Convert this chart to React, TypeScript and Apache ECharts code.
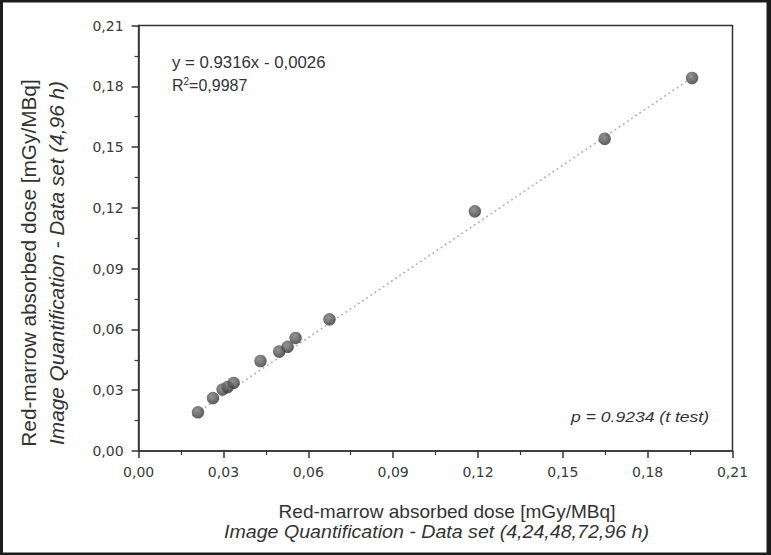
import React, { useEffect, useRef } from "react";
import * as echarts from "echarts";

// Data
const xValues = [0.0210, 0.0263, 0.0297, 0.0315, 0.0336, 0.0431, 0.0497, 0.0527, 0.0555, 0.0675, 0.1189, 0.1648, 0.1957];
const yValues = [0.0191, 0.0261, 0.0304, 0.0316, 0.0336, 0.0444, 0.0491, 0.0514, 0.0558, 0.0650, 0.1183, 0.1541, 0.1841];
const fitLineX = [0.0190, 0.1970];
const fitLineY = [0.0172, 0.1855];
const axisMin = 0;
const axisMax = 0.21;
const axisInterval = 0.03;

const equationText = "y = 0.9316x - 0,0026";
const r2Value = "=0,9987";
const pText = "p = 0.9234 (t test)";
const yTitle1 = "Red-marrow absorbed dose [mGy/MBq]";
const yTitle2 = "Image Quantification - Data set (4,96 h)";
const xTitle1 = "Red-marrow absorbed dose [mGy/MBq]";
const xTitle2 = "Image Quantification - Data set (4,24,48,72,96 h)";

const FONT = "'Liberation Sans', Arial, Helvetica, sans-serif";
const TEXT_COLOR = "#333333";

export default function App() {
  const ref = useRef<HTMLDivElement>(null);

  useEffect(() => {
    if (!ref.current) return;
    const chart = echarts.init(ref.current, undefined, { renderer: "svg" });
    const fmt = (v: number) => v.toFixed(2).replace(".", ",");
    const axisCommon = {
      type: "value" as const,
      min: axisMin,
      max: axisMax,
      interval: axisInterval,
      axisLine: { show: true, lineStyle: { color: "#333", width: 1.5 } },
      axisTick: { show: true, length: 7, lineStyle: { color: "#333", width: 1.5 } },
      minorTick: { show: true, splitNumber: 2, length: 4, lineStyle: { color: "#333", width: 1.2 } },
      splitLine: { show: false },
      axisLabel: {
        formatter: fmt,
        fontFamily: "'DejaVu Sans', sans-serif",
        fontSize: 14,
        color: "#3a3a3a",
      },
    };
    chart.setOption({
      animation: false,
      backgroundColor: "#ffffff",
      grid: {
        left: 138.6,
        right: 38.5,
        top: 25.5,
        bottom: 104,
        show: true,
        borderColor: "#333",
        borderWidth: 1.5,
        backgroundColor: "transparent",
      },
      xAxis: {
        ...axisCommon,
        axisLabel: { ...axisCommon.axisLabel, margin: 14 },
      },
      yAxis: {
        ...axisCommon,
        axisLabel: { ...axisCommon.axisLabel, margin: 15 },
      },
      series: [
        {
          type: "line",
          data: fitLineX.map((x, i) => [x, fitLineY[i]]),
          showSymbol: false,
          symbol: "none",
          lineStyle: { color: "#b0b0b0", width: 1.5, type: [2, 3] },
          z: 1,
          silent: true,
        },
        {
          type: "scatter",
          data: xValues.map((x, i) => [x, yValues[i]]),
          symbol: "circle",
          symbolSize: 12.5,
          itemStyle: {
            color: {
              type: "radial",
              x: 0.4,
              y: 0.35,
              r: 0.65,
              colorStops: [
                { offset: 0, color: "#7a7a7a" },
                { offset: 1, color: "#363636" },
              ],
            },
          },
          z: 3,
        },
      ],
      graphic: [
        // outer dark frame
        { type: "rect", shape: { x: 0, y: 0, width: 3, height: 555 }, style: { fill: "#1c1c1c" } },
        { type: "rect", shape: { x: 0, y: 0, width: 771, height: 2.5 }, style: { fill: "#1c1c1c" } },
        { type: "rect", shape: { x: 766.5, y: 0, width: 4.5, height: 555 }, style: { fill: "#1c1c1c" } },
        { type: "rect", shape: { x: 0, y: 552.5, width: 771, height: 2.5 }, style: { fill: "#1c1c1c" } },
        // annotations
        {
          type: "text",
          x: 172,
          y: 62,
          scaleX: 1.05,
          style: {
            text: equationText,
            font: `16px ${FONT}`,
            fill: TEXT_COLOR,
            verticalAlign: "middle",
            align: "left",
          },
        },
        {
          type: "text",
          x: 172,
          y: 85,
          style: {
            text: "{b|R}{s|2}{b|" + r2Value + "}",
            fill: TEXT_COLOR,
            verticalAlign: "middle",
            align: "left",
            rich: {
              b: { fontSize: 16, fontFamily: FONT, color: TEXT_COLOR },
              s: { fontSize: 10, fontFamily: FONT, verticalAlign: "top", padding: [0, 0, 8, 0], color: TEXT_COLOR },
            },
          },
        },
        {
          type: "text",
          x: 709,
          y: 416.5,
          scaleX: 1.17,
          style: {
            text: pText,
            font: `italic 15px ${FONT}`,
            fill: TEXT_COLOR,
            verticalAlign: "middle",
            align: "right",
          },
        },
        // y axis titles
        {
          type: "text",
          x: 29,
          y: 263,
          rotation: Math.PI / 2,
          scaleX: 1.04,
          style: {
            text: yTitle1,
            font: `20px ${FONT}`,
            fill: TEXT_COLOR,
            align: "center",
            verticalAlign: "middle",
          },
        },
        {
          type: "text",
          x: 57,
          y: 263,
          rotation: Math.PI / 2,
          scaleX: 1.04,
          style: {
            text: yTitle2,
            font: `italic 20px ${FONT}`,
            fill: TEXT_COLOR,
            align: "center",
            verticalAlign: "middle",
          },
        },
        // x axis titles
        {
          type: "text",
          x: 447,
          y: 512,
          scaleX: 1.06,
          style: {
            text: xTitle1,
            font: `18px ${FONT}`,
            fill: TEXT_COLOR,
            align: "center",
            verticalAlign: "middle",
          },
        },
        {
          type: "text",
          x: 436.5,
          y: 531.5,
          scaleX: 1.09,
          style: {
            text: xTitle2,
            font: `italic 18px ${FONT}`,
            fill: TEXT_COLOR,
            align: "center",
            verticalAlign: "middle",
          },
        },
      ],
    });
    return () => chart.dispose();
  }, []);

  return (
    <div
      ref={ref}
      style={{ position: "fixed", left: 0, top: 0, width: 771, height: 555 }}
    />
  );
}
